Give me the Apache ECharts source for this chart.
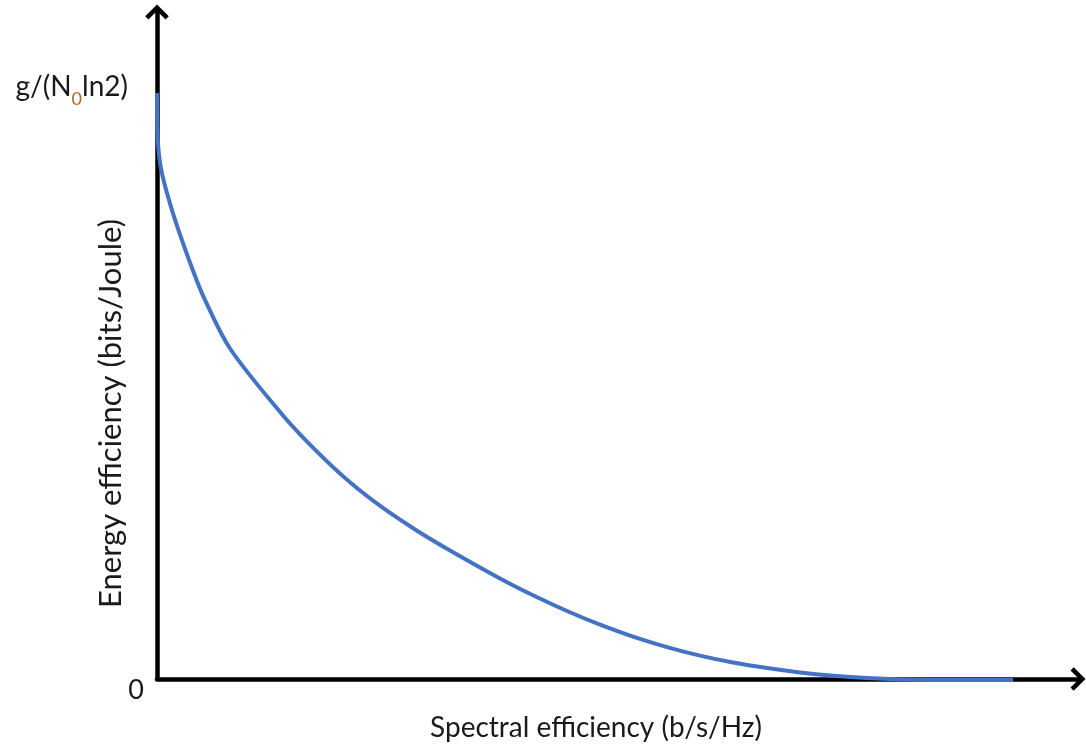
<!DOCTYPE html>
<html>
<head>
<meta charset="utf-8">
<script src="https://cdn.jsdelivr.net/npm/echarts@6/dist/echarts.min.js"></script>
<style>
html,body{margin:0;padding:0;background:#fff;}
#chart{width:1086px;height:747px;}
</style>
</head>
<body>
<div id="chart"></div>
<script>
// Spectral efficiency (x) and normalized energy efficiency (y, in units of g/(N0 ln2))
const spectralEff = [0, 0.0033, 0.0152, 0.0402, 0.0869, 0.1954, 0.3583, 0.4995, 0.7926, 1.3681, 1.7372, 2.0955, 2.4539, 2.8230, 3.1813, 3.7242, 4.0825, 4.4517, 4.8100, 5.1683, 5.5375, 5.8958, 6.2541, 6.6232, 6.9815, 7.3398, 7.7090, 8.0673, 8.6102, 9.2942];
const energyEff   = [1.0000, 0.9404, 0.9046, 0.8739, 0.8416, 0.7836, 0.7104, 0.6542, 0.5639, 0.4497, 0.3879, 0.3356, 0.2918, 0.2530, 0.2193, 0.1716, 0.1429, 0.1160, 0.0927, 0.0724, 0.0545, 0.0399, 0.0281, 0.0186, 0.0112, 0.0056, 0.0015, -0.0007, -0.0017, -0.0017];
const yTickValues = [0, 1];
const yTickLabels = ['0', 'g/(N{sub|0}ln2)'];
const xTitle = 'Spectral efficiency (b/s/Hz)';
const yTitle = 'Energy efficiency (bits/Joule)';

const points = spectralEff.map((x, i) => [x, energyEff[i]]);
const chevron = 'path://M10,0 L21,11 L18,14 L10,6 L2,14 L-1,11 Z';
const FONT = 'Lato, "Open Sans", sans-serif';
const TXT = '#1a1a1a';

const chart = echarts.init(document.getElementById('chart'));
chart.setOption({
  animation: false,
  backgroundColor: '#ffffff',
  grid: { left: 157, right: 8, top: 12, bottom: 67, containLabel: false },
  xAxis: {
    type: 'value', min: 0, max: 10,
    name: xTitle, nameLocation: 'middle', nameGap: 35, nameMoveOverlap: false,
    nameTextStyle: { fontFamily: FONT, fontSize: 28, color: TXT, padding: [0, 43, 0, 0] },
    axisLine: { show: true, onZero: false, symbol: ['none', chevron], symbolSize: [24, 15],
      lineStyle: { color: '#000', width: 4.5 } },
    axisTick: { show: false }, axisLabel: { show: false }, splitLine: { show: false }
  },
  yAxis: {
    type: 'value', min: 0, max: 1.138,
    name: yTitle, nameLocation: 'middle', nameGap: 31, nameRotate: 90, nameMoveOverlap: false,
    nameTextStyle: { fontFamily: FONT, fontSize: 31, color: TXT, padding: [0, 136, 0, 0] },
    axisLine: { show: true, onZero: false, symbol: ['none', chevron], symbolSize: [24, 15],
      lineStyle: { color: '#000', width: 4.5 } },
    axisTick: { show: false }, splitLine: { show: false },
    axisLabel: {
      show: true, customValues: yTickValues, margin: 0,
      formatter: function (v) {
        const i = yTickValues.indexOf(v);
        if (i === 0) return '{zero|' + yTickLabels[0] + '}';
        if (i === 1) return '{g|' + yTickLabels[1].replace('{sub|0}', '}{sub|0}{g|').replace(/ln2\)$/, '}{gr|ln2)') + '}';
        return '';
      },
      rich: {
        zero: { fontFamily: FONT, fontSize: 27, color: TXT, padding: [22, 13, 0, 0] },
        g: { fontFamily: FONT, fontSize: 28, color: TXT, padding: [0, 0, 12, 0] },
        gr: { fontFamily: FONT, fontSize: 28, color: TXT, padding: [0, 29, 12, 0] },
        sub: { fontFamily: FONT, fontSize: 18, color: '#a86a22', padding: [12, 0, 0, 0] }
      }
    }
  },
  series: [{
    type: 'line', data: points, showSymbol: false, clip: false,
    smooth: 0.3,
    lineStyle: { color: '#4472C4', width: 4 }, z: 5
  }]
});
</script>
</body>
</html>
